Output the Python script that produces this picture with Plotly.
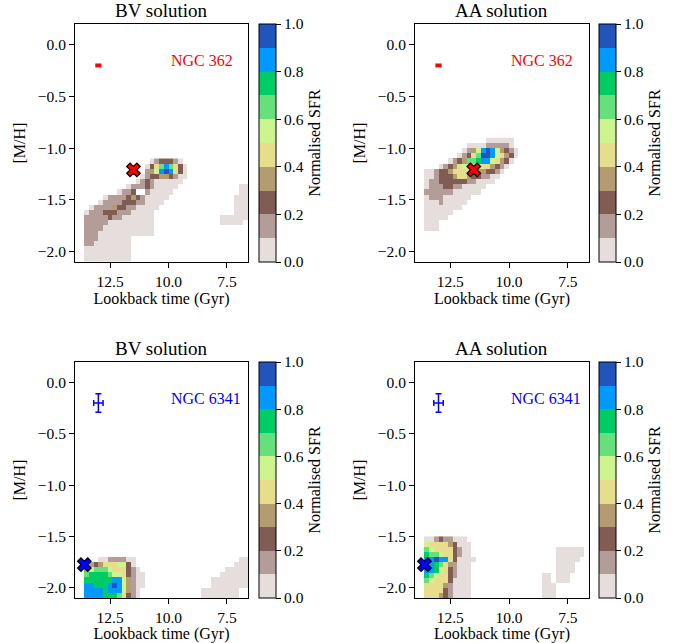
import plotly.graph_objects as go
from plotly.subplots import make_subplots

# grid of the SFR maps (cell centres)
AGE_BINS = [13.9, 13.7, 13.5, 13.3, 13.1, 12.9, 12.7, 12.5, 12.3, 12.1, 11.9, 11.7, 11.5,
            11.3, 11.1, 10.9, 10.7, 10.5, 10.3, 10.1, 9.9, 9.7, 9.5, 9.3, 9.1, 8.9, 8.7,
            8.5, 8.3, 8.1, 7.9, 7.7, 7.5, 7.3, 7.1, 6.9, 6.7]
MH_BINS = [-2.075, -2.025, -1.975, -1.925, -1.875, -1.825, -1.775, -1.725, -1.675, -1.625,
           -1.575, -1.525, -1.475, -1.425, -1.375, -1.325, -1.275, -1.225, -1.175, -1.125,
           -1.075, -1.025, -0.975, -0.925]

# one char per cell, top row first: '.' = no SFR, 0..9 = normalised SFR bin (0.0-0.1 ... 0.9-1.0)
BV_362 = [
    "." * 16 + "0122210" + "." * 14,
    "." * 15 + "024686420" + "." * 13,
    "." * 15 + "135898420" + "." * 13,
    "." * 14 + "0122332100" + "." * 13,
    "." * 13 + "0121000000" + "." * 14,
    "." * 11 + "01112100000" + "." * 13 + "00",
    "." * 9 + "0112..100000" + "." * 14 + "00",
    "." * 6 + "01111232100000" + "." * 14 + "000",
    "." * 5 + "01111222110000" + "." * 15 + "000",
    "." * 3 + "011113221100000" + "." * 16 + "000",
    "." * 2 + "011122211100000" + "." * 17 + "000",
    "." * 2 + "111112110000000" + "." * 14 + "000000",
    "." * 2 + "111110000000000" + "." * 14 + "00000" + ".",
    "." * 2 + "111100000000000" + "." * 20,
    "." * 2 + "111000000000000" + "." * 20,
    "." * 2 + "1110000000" + "." * 25,
    "." * 2 + "1100000000" + "." * 25,
    "." * 2 + "0000000000" + "." * 25,
    "." * 2 + "0000000000" + "." * 25,
    "." * 2 + "0000000000" + "." * 25,
]
AA_362 = [
    "." * 15 + "000000" + "." * 16,
    "." * 11 + "0000111110" + "." * 16,
    "." * 10 + "013589853210" + "." * 15,
    "." * 9 + "0124699854320" + "." * 15,
    "." * 7 + "01236678854320" + "." * 16,
    "." * 5 + "012345544443210" + "." * 17,
    "." * 2 + "00122344444332210" + "." * 18,
    "." * 2 + "0012223443221100" + "." * 19,
    "." * 2 + "011222222110000" + "." * 20,
    "." * 2 + "0111221100000" + "." * 22,
    "." * 2 + "111111000000" + "." * 23,
    "." * 2 + "0111000000" + "." * 25,
    "." * 2 + "000100000" + "." * 26,
    "." * 2 + "00000000" + "." * 27,
    "." * 2 + "000000" + "." * 29,
    "." * 2 + "00000" + "." * 30,
    "." * 2 + "000" + "." * 32,
    "." * 2 + "000" + "." * 32,
    "." * 37,
    "." * 37,
    "." * 37,
    "." * 37,
    "." * 37,
    "." * 37,
]
BV_6341 = [
    "." * 5 + "00111100" + "." * 22 + "00",
    "." * 2 + "01234445520" + "." * 21 + "000",
    "." * 2 + "356665444210" + "." * 18 + "00000",
    "." * 2 + "6777765542100" + "." * 16 + "000000",
    "." * 2 + "7777778853100" + "." * 14 + "00000000",
    "." * 2 + "8877789853100" + "." * 14 + "00000000",
    "." * 2 + "888878885310" + "." * 13 + "00000000" + "..",
    "." * 2 + "888877764210" + "." * 13 + "00000000" + "..",
]
AA_6341 = [
    "." * 2 + "001211000" + "." * 26,
    "." * 2 + "5444432000" + "." * 25,
    "." * 2 + "6544442100" + "." * 18 + "000000" + ".",
    "." * 2 + "7665442100" + "." * 18 + "000000" + ".",
    "." * 2 + "88988420000" + "." * 17 + "00000" + "..",
    "." * 2 + "9876431000" + "." * 18 + "0000" + "...",
    "." * 2 + "8875421000" + "." * 18 + "0000" + "...",
    "." * 2 + "7654421000" + "." * 15 + "00" + "." + "000" + "....",
    "." * 2 + "6544420000" + "." * 15 + "00" + "." + "000" + "....",
    "." * 2 + "4444310000" + "." * 15 + "000" + "." * 7,
    "." * 2 + "4444210000" + "." * 15 + "000" + "." * 7,
    "." * 2 + "4443210000" + "." * 15 + "000" + "." * 7,
]

CLUSTERS = ["NGC 362", "NGC 6341"]
CLUSTER_COLORS = ["#ff0000", "#0000ff"]
CLUSTER_AGE = [11.5, 13.6]
CLUSTER_MH = [-1.21, -1.775]
ERR_AGE = [0.1, 0.2]
ERR_MH = [0.01, 0.09]
ERR_POINT_AGE = 13.0
ERR_POINT_MH = -0.2
LABEL_AGE = 10.0
LABEL_MH = -0.155

SFR_TICKS = [0.0, 0.2, 0.4, 0.6, 0.8, 1.0]
AGE_TICKS = [12.5, 10.0, 7.5]
MH_TICKS = [0.0, -0.5, -1.0, -1.5, -2.0]

# terrain_r sampled at the 10 contour bands
BIN_COLORS = ["#e6dedd", "#b39d98", "#805c54", "#b39d70", "#e6de8b",
              "#ccf58f", "#66e07a", "#00cc66", "#0099ff", "#2255bb"]
colorscale = []
for i, c in enumerate(BIN_COLORS):
    colorscale += [[i / 10, c], [(i + 1) / 10, c]]

FONT = "Liberation Serif"
W, H = 681, 643


def fmt(v):
    return f"{v:.1f}".replace("-", "\u2212")


def to_z(rows):
    z = []
    for row in reversed(rows):
        assert len(row) == len(AGE_BINS), (len(row), row)
        z.append([None if ch == "." else (int(ch) + 0.5) / 10 for ch in row])
    return z


# pixel boxes of the axes: (left, right, top, bottom)
x_px = [(75, 248), (415, 589)]
y_px = [(24, 262), (362, 598)]
cb_px = [259, 599]

panels = [(BV_362, 0, 0, "BV solution"), (AA_362, 0, 1, "AA solution"),
          (BV_6341, 1, 0, "BV solution"), (AA_6341, 1, 1, "AA solution")]

fig = make_subplots(rows=2, cols=2)
annotations = []
for grid, r, c, title in panels:
    z = to_z(grid)
    top, bot = y_px[r]
    fig.add_trace(go.Heatmap(
        z=z, x=AGE_BINS, y=MH_BINS[:len(z)], zmin=0, zmax=1,
        colorscale=colorscale, hoverinfo="skip",
        colorbar=dict(
            x=cb_px[c] / W, xanchor="left", xpad=0,
            y=1 - (top + bot) / 2 / H, yanchor="middle", ypad=0,
            len=(bot - top) / H, lenmode="fraction",
            thickness=17, thicknessmode="pixels",
            outlinecolor="black", outlinewidth=1,
            tickvals=SFR_TICKS, ticktext=[fmt(v) for v in SFR_TICKS],
            ticks="outside", ticklen=5, tickcolor="black",
            tickfont=dict(family=FONT, size=15.5, color="black"),
            title=dict(text="Normalised SFR", side="right",
                       font=dict(family=FONT, size=16, color="black")),
        ),
    ), row=r + 1, col=c + 1)

    col = CLUSTER_COLORS[r]
    fig.add_trace(go.Scatter(
        x=[ERR_POINT_AGE], y=[ERR_POINT_MH], mode="markers",
        marker=dict(size=1, color=col),
        error_x=dict(type="data", array=[ERR_AGE[r]], color=col, thickness=1.5, width=2 if r == 0 else 3),
        error_y=dict(type="data", array=[ERR_MH[r]], color=col, thickness=1.5, width=2 if r == 0 else 3),
        hoverinfo="skip", showlegend=False,
    ), row=r + 1, col=c + 1)
    fig.add_trace(go.Scatter(
        x=[CLUSTER_AGE[r]], y=[CLUSTER_MH[r]], mode="markers",
        marker=dict(symbol="x", size=12, color=col, line=dict(color="black", width=1.2)),
        hoverinfo="skip", showlegend=False,
    ), row=r + 1, col=c + 1)

    n = r * 2 + c + 1
    suffix = "" if n == 1 else str(n)
    annotations.append(dict(
        xref="x" + suffix, yref="y" + suffix, x=LABEL_AGE, y=LABEL_MH,
        text=CLUSTERS[r], showarrow=False, xanchor="left", yanchor="middle",
        font=dict(family=FONT, size=16, color=col),
    ))
    left, right = x_px[c]
    annotations.append(dict(
        xref="paper", yref="paper", x=(left + right) / 2 / W, y=1 - top / H,
        yshift=1, text=title, showarrow=False, xanchor="center", yanchor="bottom",
        font=dict(family=FONT, size=19, color="black"),
    ))

    axis_common = dict(showgrid=False, zeroline=False, showline=True, linecolor="black",
                       linewidth=1, mirror=True, ticks="outside", ticklen=5, tickcolor="black",
                       tickfont=dict(family=FONT, size=15.5, color="black"))
    fig.update_xaxes(domain=[left / W, right / W], range=[14.0, 6.6],
                     tickvals=AGE_TICKS, ticktext=[fmt(v) for v in AGE_TICKS],
                     title=dict(text="Lookback time (Gyr)", standoff=4,
                                font=dict(family=FONT, size=16, color="black")),
                     row=r + 1, col=c + 1, **axis_common)
    fig.update_yaxes(domain=[1 - bot / H, 1 - top / H], range=[-2.1, 0.2],
                     tickvals=MH_TICKS, ticktext=[fmt(v) for v in MH_TICKS],
                     title=dict(text="[M/H]", standoff=8,
                                font=dict(family=FONT, size=16, color="black")),
                     row=r + 1, col=c + 1, **axis_common)

fig.update_layout(
    width=W, height=H, margin=dict(l=0, r=0, t=0, b=0),
    paper_bgcolor="white", plot_bgcolor="white",
    showlegend=False, annotations=annotations,
    font=dict(family=FONT, color="black"),
)
# the page's default body margin would push the figure 8px down/right
fig.write_html("out.html", config={"displayModeBar": False},
               post_script="document.body.style.margin = '0';")
